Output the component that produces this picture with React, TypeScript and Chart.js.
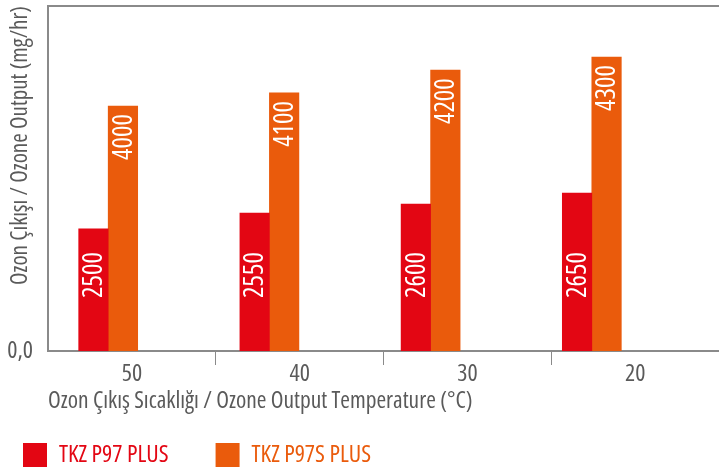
import React, { useEffect, useRef } from "react";
import { Chart, registerables } from "chart.js";

Chart.register(...registerables);

// Categories (ozone output temperature, °C)
const categories = ["50", "40", "30", "20"];
// Series names
const seriesNames = ["TKZ P97 PLUS", "TKZ P97S PLUS"];
// Printed values (mg/hr)
const p97Values = [2500, 2550, 2600, 2650];
const p97sValues = [4000, 4100, 4200, 4300];
// Bar heights as drawn in the picture (percent of the value axis)
const p97Heights = [35.4, 40.0, 42.6, 45.8];
const p97sHeights = [71.0, 74.8, 81.4, 85.2];
// Value axis tick labels
const yTickValues = [0];

const RED = "#e30613";
const ORANGE = "#ea5b0c";
const AXIS = "#8a8a8a";
const TEXT = "#5a5a5a";
const FONT = "'Open Sans', sans-serif";
const STRETCH = "condensed";

const barLabelPlugin = {
  id: "barLabels",
  afterDatasetsDraw(chart: any) {
    const ctx = chart.ctx;
    const printed = [p97Values, p97sValues];
    chart.data.datasets.forEach((ds: any, di: number) => {
      const meta = chart.getDatasetMeta(di);
      meta.data.forEach((el: any, i: number) => {
        const text = String(printed[di][i]);
        ctx.save();
        ctx.font = `${STRETCH} 27px ${FONT}`;
        ctx.fillStyle = "#ffffff";
        ctx.textBaseline = "middle";
        if (di === 0) {
          ctx.translate(el.x, el.base - 53);
          ctx.rotate(-Math.PI / 2);
          ctx.textAlign = "left";
        } else {
          ctx.translate(el.x, el.y + 8);
          ctx.rotate(-Math.PI / 2);
          ctx.textAlign = "right";
        }
        ctx.fillText(text, 0, 1);
        ctx.restore();
      });
    });
  },
};

export default function App() {
  const ref = useRef<HTMLCanvasElement | null>(null);

  useEffect(() => {
    document.body.style.margin = "0";
    if (!ref.current) return;
    const colors = [RED, ORANGE];
    const chart = new Chart(ref.current, {
      type: "bar",
      data: {
        datasets: [
          {
            label: seriesNames[0],
            data: p97Heights.map((h, i) => ({ x: i, y: h })),
            backgroundColor: RED,
            xAxisID: "xb",
            barThickness: 29.5,
          },
          {
            label: seriesNames[1],
            data: p97sHeights.map((h, i) => ({ x: i, y: h })),
            backgroundColor: ORANGE,
            xAxisID: "xb",
            barThickness: 29.5,
          },
        ] as any,
      },
      options: {
        animation: false,
        responsive: true,
        maintainAspectRatio: false,
        layout: { padding: { left: -24, right: 0, top: 0, bottom: -8 } },
        plugins: {
          tooltip: { enabled: false },
          legend: {
            position: "bottom",
            align: "start",
            labels: {
              boxWidth: 24,
              boxHeight: 24,
              padding: 47,
              font: { family: FONT, size: 24, weight: STRETCH },
              generateLabels: (c: any) =>
                c.data.datasets.map((ds: any, i: number) => ({
                  text: ds.label,
                  fillStyle: colors[i],
                  strokeStyle: colors[i],
                  lineWidth: 0,
                  fontColor: colors[i],
                  hidden: false,
                  datasetIndex: i,
                })),
            },
          },
        },
        scales: {
          xb: {
            type: "linear",
            display: false,
            offset: false,
            min: -0.3734,
            max: 3.789,
          },
          x: {
            type: "category",
            labels: categories,
            position: "bottom",
            offset: true,
            grid: {
              offset: true,
              drawOnChartArea: false,
              drawTicks: true,
              tickLength: 14,
              color: (c: any) => (c.index === 0 || c.index === 4 ? "rgba(0,0,0,0)" : AXIS),
            },
            border: { display: true, color: AXIS, width: 2 },
            ticks: { color: TEXT, font: { family: FONT, size: 24, weight: STRETCH }, padding: -5 },
            title: {
              display: true,
              align: "start",
              text: "Ozon Çıkış Sıcaklığı / Ozone Output Temperature (°C)",
              color: TEXT,
              font: { family: FONT, size: 23.4, weight: STRETCH },
              padding: { top: 0, bottom: -19 },
            },
            afterFit: (s: any) => {
              s.height = 45;
            },
          },
          xTop: {
            type: "linear",
            position: "top",
            ticks: { display: false },
            grid: { display: false, drawTicks: false },
            border: { display: true, color: AXIS, width: 2 },
            afterFit: (s: any) => {
              s.height = 6;
            },
          },
          y: {
            type: "linear",
            min: 0,
            max: 100,
            grid: { display: false, drawTicks: false },
            border: { display: true, color: AXIS, width: 2 },
            afterBuildTicks: (s: any) => {
              s.ticks = yTickValues.map((v) => ({ value: v }));
            },
            ticks: {
              color: TEXT,
              font: { family: FONT, size: 24, weight: STRETCH },
              padding: 15,
              callback: (v: any) => Number(v).toFixed(1).replace(".", ","),
            },
            title: {
              display: true,
              align: "end",
              text: "Ozon Çıkışı / Ozone Output (mg/hr)",
              color: TEXT,
              font: { family: FONT, size: 23, weight: STRETCH },
              padding: { top: 31, bottom: 0 },
            },
            afterFit: (s: any) => {
              s.width = 72;
              s.paddingTop = 0;
              s.paddingBottom = 0;
            },
          },
        },
      } as any,
      plugins: [barLabelPlugin],
    });
    return () => chart.destroy();
  }, []);

  return (
    <div style={{ width: "719px", height: "469px", position: "relative" }}>
      <canvas ref={ref} />
    </div>
  );
}
